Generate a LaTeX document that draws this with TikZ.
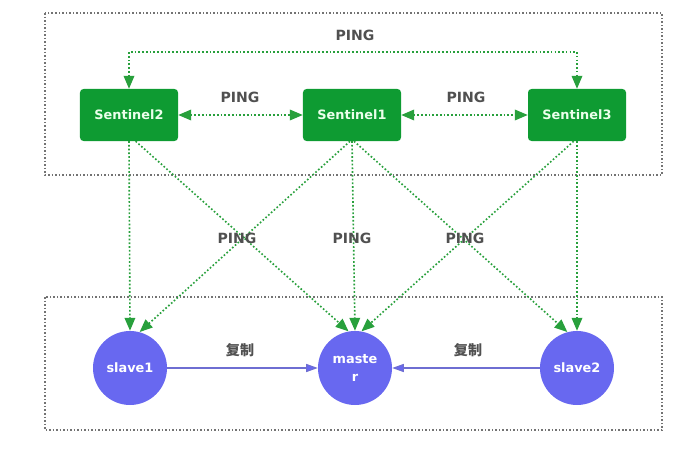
\documentclass[tikz,border=0pt]{standalone}
\usepackage{fontspec}
\setmainfont{DejaVu Sans}
\newfontfamily\cjk{Noto Sans CJK SC}
\usetikzlibrary{arrows.meta}

\definecolor{sentgreen}{RGB}{14,155,50}
\definecolor{pinggreen}{RGB}{40,160,60}
\definecolor{nodeblue}{RGB}{104,104,240}
\definecolor{linkblue}{RGB}{110,110,210}
\definecolor{labelgray}{RGB}{80,80,80}

\tikzset{
  sentinel/.style={fill=sentgreen, rounded corners=3pt, minimum width=2.94cm, minimum height=1.56cm,
    text=green!8, font=\fontsize{11}{13}\selectfont\bfseries},
  redis/.style={circle, fill=nodeblue, minimum size=2.22cm, inner sep=0pt, align=center,
    text=white, font=\fontsize{11}{15}\selectfont\bfseries},
  ping/.style={draw=pinggreen, line width=1.4pt, dash pattern=on 1.4pt off 1.8pt,
    -{Triangle[length=11pt, width=9pt, fill=pinggreen]}},
  pingboth/.style={ping, {Triangle[length=11pt, width=9pt, fill=pinggreen]}-{Triangle[length=11pt, width=9pt, fill=pinggreen]}},
  groupbox/.style={draw=gray!90!black, line width=1.3pt, dash pattern=on 1.3pt off 1.7pt},
  label/.style={text=labelgray, font=\fontsize{12}{14}\selectfont\bfseries}
}

\begin{document}
\begin{tikzpicture}[x=0.03cm, y=-0.03cm]

\useasboundingbox (0,0) rectangle (690,450);

\draw[groupbox] (45,13) rectangle (662,175);
\draw[groupbox] (45,297) rectangle (662,430);

\node[sentinel] (s2) at (129,115) {Sentinel2};
\node[sentinel] (s1) at (352,115) {Sentinel1};
\node[sentinel] (s3) at (577,115) {Sentinel3};

\node[redis] (slave1) at (130,368) {slave1};
\node[redis] (master) at (355,368) {maste\\r};
\node[redis] (slave2) at (577,368) {slave2};

\coordinate (pingtop) at (352,52);

\draw[pingboth] (s2.north) |- (pingtop) -| (s3.north);
\draw[pingboth] (s2.east) -- (s1.west);
\draw[pingboth] (s1.east) -- (s3.west);

\draw[ping] (s2.south) -- (slave1.north);
\draw[ping] ([xshift=0.2cm]s2.south) -- (master.100);
\draw[ping] ([xshift=-0.06cm]s1.south) -- (slave1.75);
\draw[ping] (s1.south) -- (master.north);
\draw[ping] ([xshift=0.06cm]s1.south) -- (slave2.105);
\draw[ping] ([xshift=-0.1cm]s3.south) -- (master.80);
\draw[ping] (s3.south) -- (slave2.north);

\draw[linkblue, line width=0.9pt, -{Triangle[length=10pt, width=7pt, fill=nodeblue]}] (slave1.east) -- (master.west);
\draw[linkblue, line width=0.9pt, -{Triangle[length=10pt, width=7pt, fill=nodeblue]}] (slave2.west) -- (master.east);

\node[label] (pingtoplabel) at (355,35) {PING};
\node[label] (pingleft) at (240,97) {PING};
\node[label] (pingright) at (466,97) {PING};
\node[label] (pingdiagleft) at (237,238) {PING};
\node[label] (pingmid) at (352,238) {PING};
\node[label] (pingdiagright) at (465,238) {PING};

\node[label, font=\cjk\fontsize{12}{14}\selectfont\bfseries] (copyleft) at (240,350) {复制};
\node[label, font=\cjk\fontsize{12}{14}\selectfont\bfseries] (copyright) at (468,350) {复制};

\end{tikzpicture}
\end{document}
